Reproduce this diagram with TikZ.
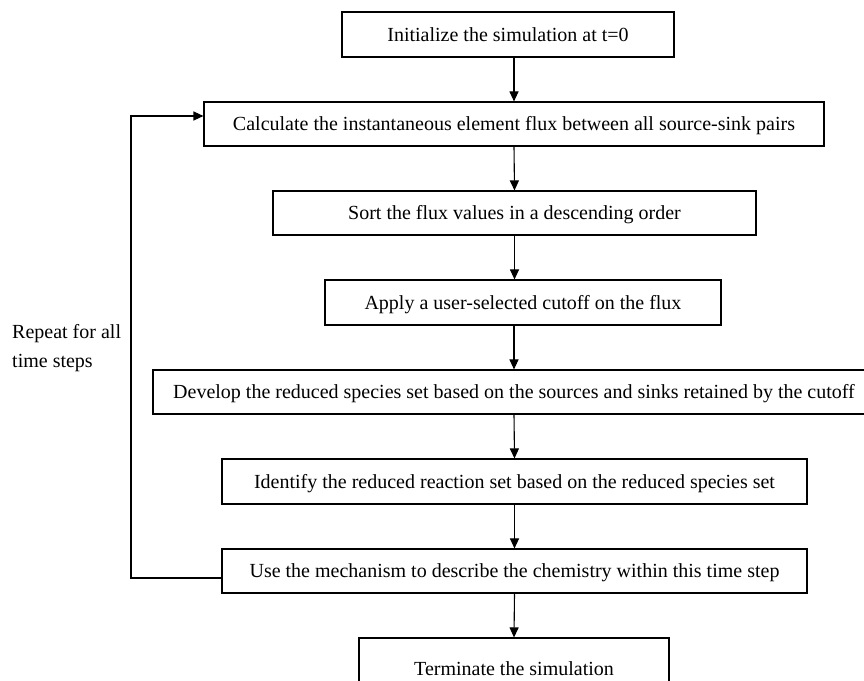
\documentclass[tikz,border=0pt]{standalone}
\usepackage{fontspec}
\setmainfont{Liberation Serif}
\usetikzlibrary{arrows.meta}
\begin{document}
\begin{tikzpicture}[x=1pt,y=1pt,
  every node/.style={font=\fontsize{20}{30}\selectfont},
  stepbox/.style={draw, line width=1.1pt, inner sep=0pt, text height=13.3pt, text depth=0pt, align=center},
  flow/.style={line width=1.1pt, -{Triangle[length=10pt,width=9pt]}},
  plain/.style={line width=1.1pt}]
\useasboundingbox (0,0) rectangle (864,680);
\clip (0,0) rectangle (864,680);
\node[stepbox, minimum width=332pt, minimum height=45pt] (b1) at (508,645.5) {Initialize the simulation at t=0};
\node[stepbox, minimum width=620pt, minimum height=44pt] (b2) at (514,556) {Calculate the instantaneous element flux between all source-sink pairs};
\node[stepbox, minimum width=483pt, minimum height=44pt] (b3) at (514.5,467) {Sort the flux values in a descending order};
\node[stepbox, minimum width=396pt, minimum height=45pt] (b4) at (523,377.5) {Apply a user-selected cutoff on the flux};
\node[stepbox, minimum width=722pt, minimum height=44pt] (b5) at (514,288) {Develop the reduced species set based on the sources and sinks retained by the cutoff};
\node[stepbox, minimum width=585pt, minimum height=45pt] (b6) at (514.5,198.5) {Identify the reduced reaction set based on the reduced species set};
\node[stepbox, minimum width=585pt, minimum height=44pt] (b7) at (514.5,109) {Use the mechanism to describe the chemistry within this time step};
\node[stepbox, minimum width=310pt, minimum height=62pt] (b8) at (514,11) {Terminate the simulation};
\node[anchor=base west, inner sep=0pt] (r1) at (12,341) {Repeat for all};
\node[anchor=base west, inner sep=0pt] (r2) at (12,312) {time steps};
\draw[flow] (b1.south -| b2.north) -- (b2.north);
\draw[flow] (b2.south) -- (b3.north);
\draw[flow] (b3.south) -- (b4.north -| b3.south);
\draw[flow] (b4.south -| b5.north) -- (b5.north);
\draw[flow] (b5.south) -- (b6.north);
\draw[flow] (b6.south) -- (b7.north);
\draw[flow] (b7.south) -- (b8.north);
\coordinate (lb) at (131,102);
\coordinate (lt) at (131,564);
\draw[flow] ([yshift=-7pt]b7.west) -- (lb) -- (lt) -- ([yshift=8pt]b2.west);
\end{tikzpicture}
\end{document}
